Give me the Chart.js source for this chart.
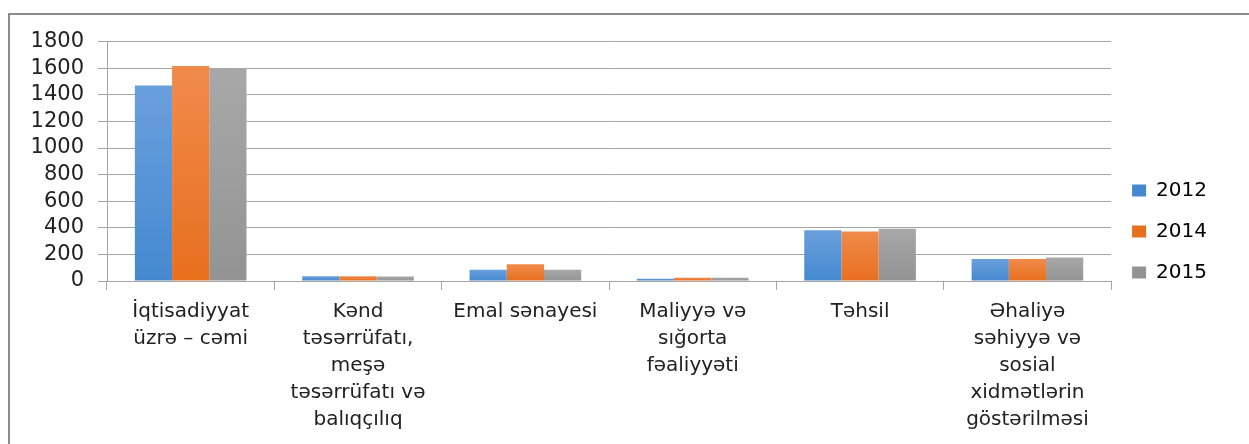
<!DOCTYPE html>
<html>
<head>
<meta charset="utf-8">
<script src="https://cdn.jsdelivr.net/npm/chart.js@4"></script>
<style>
  html, body { margin: 0; padding: 0; background: #fff; }
  body { width: 1249px; height: 444px; overflow: hidden; position: relative; }
  .frame {
    position: absolute; left: 8px; top: 13px; right: -2px; bottom: -2px;
    border-left: 2px solid #8c8c8c; border-top: 2px solid #8c8c8c;
  }
  .box { position: absolute; left: 0; top: 0; width: 1240px; height: 429px; }
</style>
</head>
<body>
<div class="frame"><div class="box"><canvas id="chart"></canvas></div></div>
<script>
const categories = [
  ["İqtisadiyyat", "üzrə – cəmi"],
  ["Kənd", "təsərrüfatı,", "meşə", "təsərrüfatı və", "balıqçılıq"],
  ["Emal sənayesi"],
  ["Maliyyə və", "sığorta", "fəaliyyəti"],
  ["Təhsil"],
  ["Əhaliyə", "səhiyyə və", "sosial", "xidmətlərin", "göstərilməsi"]
];
const years = ["2012", "2014", "2015"];
const values2012 = [1470, 35, 84, 17, 382, 166];
const values2014 = [1617, 35, 126, 25, 372, 166];
const values2015 = [1597, 33, 84, 25, 392, 176];
const yTicks = [0, 200, 400, 600, 800, 1000, 1200, 1400, 1600, 1800];

const colorsTop = ["#6a9fdc", "#f08a4b", "#a8a8a8"];
const colorsBottom = ["#4489d0", "#e86f1e", "#939393"];

function barFill(i) {
  return (ctx) => {
    const chart = ctx.chart;
    const y = chart.scales.y;
    if (!y || ctx.raw === undefined) return colorsBottom[i];
    const top = y.getPixelForValue(ctx.raw);
    const bottom = y.getPixelForValue(0);
    if (!isFinite(top) || bottom - top < 1) return colorsBottom[i];
    const g = chart.ctx.createLinearGradient(0, top, 0, bottom);
    g.addColorStop(0, colorsTop[i]);
    g.addColorStop(1, colorsBottom[i]);
    return g;
  };
}

const series = [values2012, values2014, values2015];
const font = "'DejaVu Sans', sans-serif";

const data = {
  labels: categories,
  datasets: series.map((vals, i) => ({
    label: years[i],
    data: vals,
    backgroundColor: barFill(i),
    borderWidth: 0,
    categoryPercentage: 0.667,
    barPercentage: 1.0
  }))
};

const config = {
  type: 'bar',
  data: data,
  options: {
    responsive: true,
    maintainAspectRatio: false,
    animation: false,
    layout: { padding: { top: 12, right: 33, left: 0, bottom: 0 } },
    plugins: {
      tooltip: { enabled: false },
      legend: {
        position: 'right',
        labels: {
          color: '#222',
          font: { family: font, size: 20 },
          boxWidth: 14,
          boxHeight: 12,
          padding: 21,
          generateLabels: (chart) => years.map((y, i) => ({
            text: y,
            fillStyle: colorsBottom[i],
            strokeStyle: colorsBottom[i],
            lineWidth: 0,
            datasetIndex: i
          }))
        }
      }
    },
    scales: {
      x: {
        grid: {
          offset: true,
          drawOnChartArea: false,
          drawTicks: true,
          tickLength: 9,
          color: '#a6a6a6'
        },
        border: { color: '#a6a6a6', width: 1 },
        ticks: {
          autoSkip: false,
          maxRotation: 0,
          minRotation: 0,
          padding: 8,
          color: '#222',
          font: { family: font, size: 20, lineHeight: 1.35 }
        },
        afterFit: (scale) => { scale.height = 163; }
      },
      y: {
        min: 0,
        max: 1800,
        afterBuildTicks: (scale) => { scale.ticks = yTicks.map(v => ({ value: v })); },
        grid: {
          color: '#a6a6a6',
          tickLength: 9
        },
        border: { color: '#a6a6a6', width: 1 },
        ticks: {
          autoSkip: false,
          padding: 14,
          color: '#222',
          font: { family: font, size: 21 },
          callback: (v) => String(v)
        },
        afterFit: (scale) => { scale.width = 97; }
      }
    }
  },
  plugins: [{
    // nudge the legend up a little, like the original
    id: 'legendShift',
    afterLayout: (chart) => {
      const lg = chart.legend;
      if (lg) { lg.top -= 4; lg.bottom -= 4; }
    }
  }]
};

const ctx = document.getElementById('chart');
new Chart(ctx, config);
</script>
</body>
</html>
